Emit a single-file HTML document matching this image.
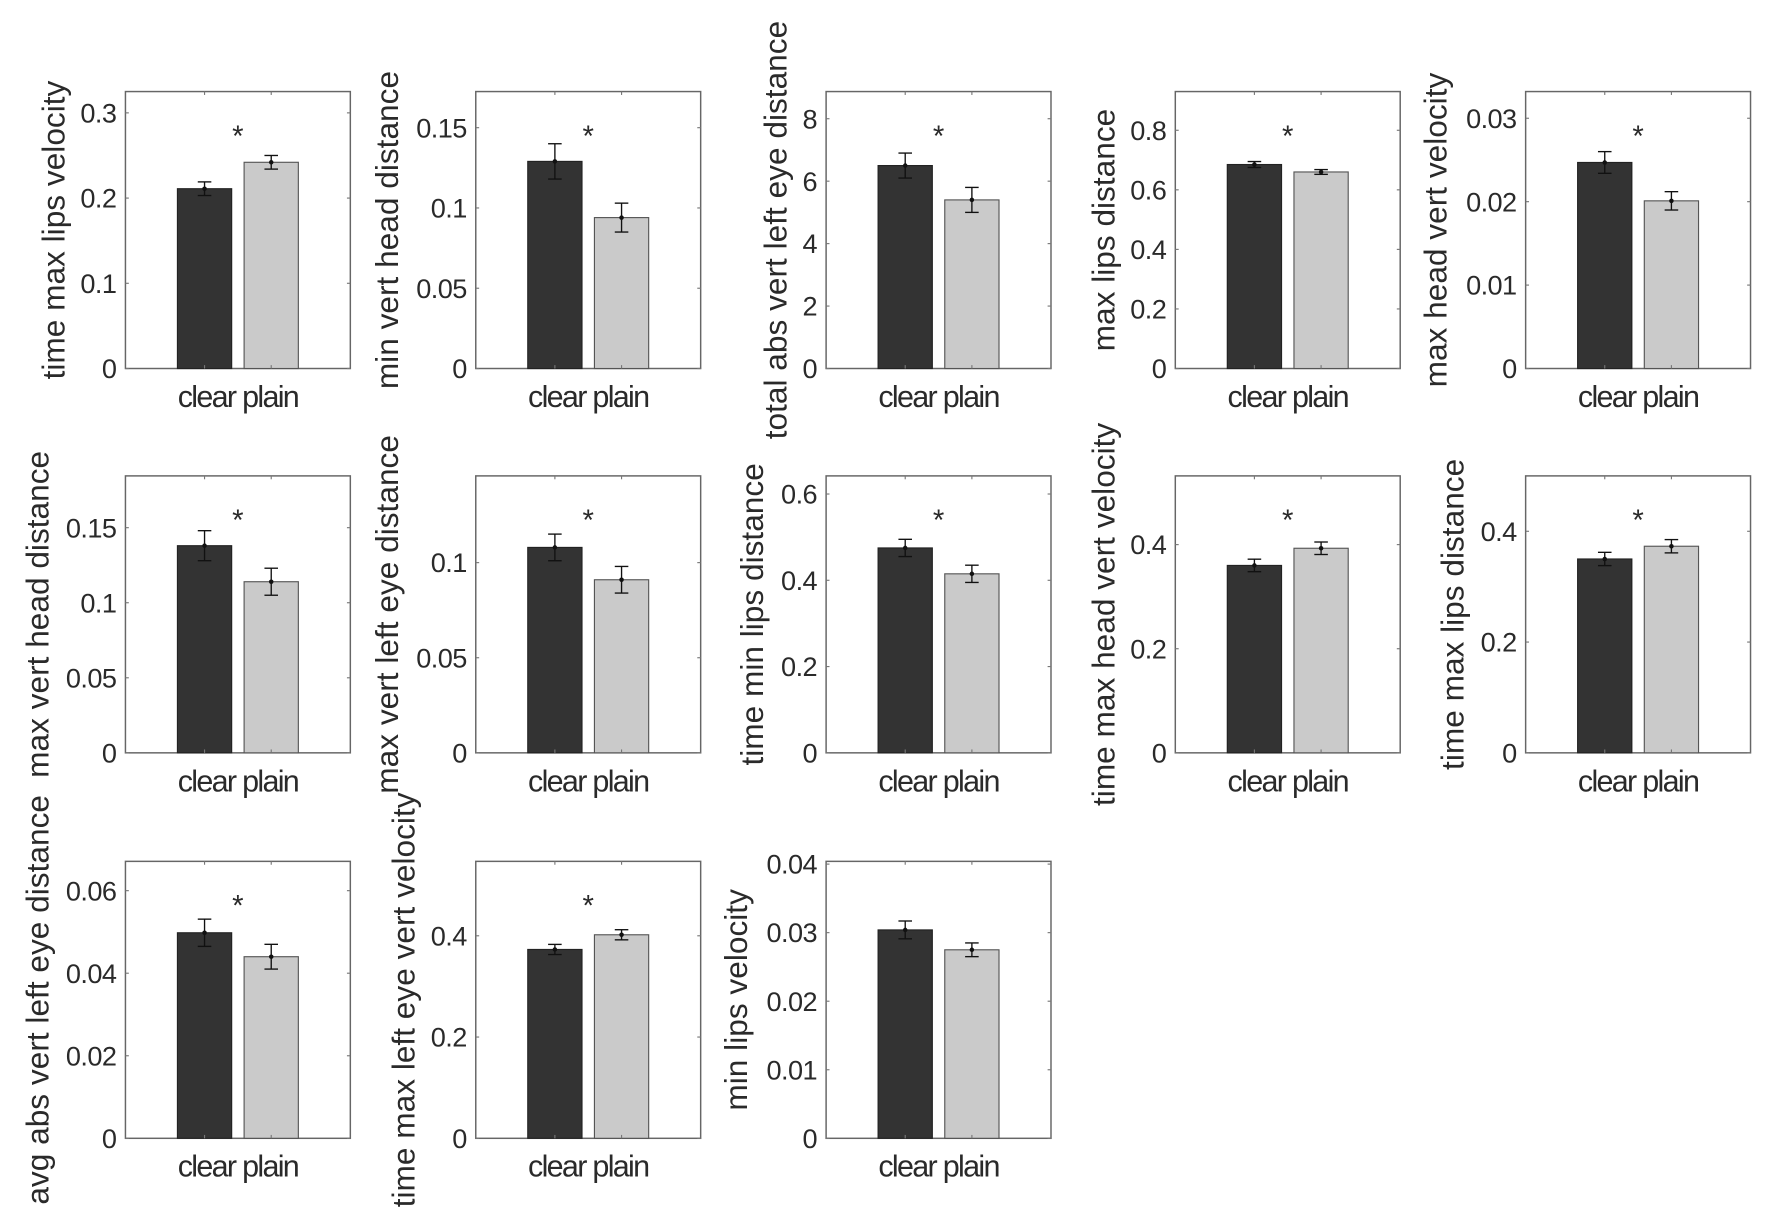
<!DOCTYPE html>
<html><head><meta charset="utf-8"><style>
html,body{margin:0;padding:0;background:#fff;}
svg{display:block;}
text{font-family:"Liberation Sans",sans-serif;fill:#2a2a2a;}
</style></head><body>
<svg id="fig" width="1772" height="1231" viewBox="0 0 1568 1089" preserveAspectRatio="none" xmlns="http://www.w3.org/2000/svg"></svg>
<script>
const categories = ["clear","plain"];
const titles = ["time max lips velocity","min vert head distance","total abs vert left eye distance","max lips distance","max head vert velocity","max vert head distance","max vert left eye distance","time min lips distance","time max head vert velocity","time max lips distance","avg abs vert left eye distance","time max left eye vert velocity","min lips velocity"];
const clearValues = [0.211,0.129,6.5,0.685,0.0247,0.138,0.108,0.475,0.36,0.35,0.0498,0.373,0.0304];
const plainValues = [0.242,0.094,5.4,0.66,0.0201,0.114,0.091,0.415,0.393,0.373,0.044,0.402,0.0275];
const clearErrors = [0.008,0.011,0.4,0.01,0.0013,0.01,0.007,0.02,0.012,0.012,0.0033,0.01,0.0013];
const plainErrors = [0.008,0.009,0.4,0.008,0.0011,0.009,0.007,0.02,0.012,0.012,0.003,0.01,0.001];
const yMax = [0.325,0.1725,8.87,0.93,0.0332,0.1845,0.1456,0.642,0.532,0.5,0.0671,0.547,0.0404];
const tickLabels = [["0","0.1","0.2","0.3"],["0","0.05","0.1","0.15"],["0","2","4","6","8"],["0","0.2","0.4","0.6","0.8"],["0","0.01","0.02","0.03"],["0","0.05","0.1","0.15"],["0","0.05","0.1"],["0","0.2","0.4","0.6"],["0","0.2","0.4"],["0","0.2","0.4"],["0","0.02","0.04","0.06"],["0","0.2","0.4"],["0","0.01","0.02","0.03","0.04"]];
const significant = [1,1,1,1,1,1,1,1,1,1,1,1,0];

const NS="http://www.w3.org/2000/svg";
const svg=document.getElementById('fig');
const colLeft=[111,421,731,1040,1350], rowTop=[81,421,762];
const W=199,H=245;
const labelOffset=[64,79,45,64,80,78,79,66,64,65,78,64,80];
function mk(tag,attrs,parent){const e=document.createElementNS(NS,tag);for(const k in attrs)e.setAttribute(k,attrs[k]);(parent||svg).appendChild(e);return e;}

titles.forEach((t,i)=>{
  const L=colLeft[i%5], T=rowTop[Math.floor(i/5)], B=T+H;
  const y=v=>B - v/yMax[i]*H;
  const g=mk('g',{});
  
  
  const box=mk('rect',{x:L,y:T,width:W,height:H,fill:'none',stroke:'#666','stroke-width':1.3},g);
  
  
  tickLabels[i].forEach(tl=>{
    const v=parseFloat(tl), yy=y(v);
    mk('line',{x1:L,x2:L+3,y1:yy,y2:yy,stroke:'#777','stroke-width':1},g);
    mk('line',{x1:L+W-3,x2:L+W,y1:yy,y2:yy,stroke:'#777','stroke-width':1},g);
    const tx=mk('text',{x:L-8,y:yy+8.5,'text-anchor':'end','font-size':24,'letter-spacing':'-0.5'},g);
    tx.textContent=tl;
    
    
  });
  const centers=[L+70,L+129], bw=48;
  const vals=[clearValues[i],plainValues[i]], errs=[clearErrors[i],plainErrors[i]];
  vals.forEach((v,k)=>{
    const r=mk('rect',{x:centers[k]-bw/2,y:y(v),width:bw,height:B-y(v),fill:k?'#cacaca':'#333',stroke:k?'#555':'#222','stroke-width':1},g);
    
    
    mk('line',{x1:centers[k],x2:centers[k],y1:B,y2:B-3,stroke:'#777'},g);
    mk('line',{x1:centers[k],x2:centers[k],y1:T,y2:T+3,stroke:'#777'},g);
    const eb=mk('g',{stroke:'#111','stroke-width':1.2},g);
    
    
    const yt=y(v+errs[k]), yb=y(v-errs[k]);
    mk('line',{x1:centers[k],x2:centers[k],y1:yt,y2:yb},eb);
    mk('line',{x1:centers[k]-6,x2:centers[k]+6,y1:yt,y2:yt},eb);
    mk('line',{x1:centers[k]-6,x2:centers[k]+6,y1:yb,y2:yb},eb);
    mk('circle',{cx:centers[k],cy:y(v),r:2,fill:'#111',stroke:'none'},eb);
  });
  const xl=mk('text',{x:L+W/2,y:B+34,'text-anchor':'middle','font-size':27,'letter-spacing':'-1.5'},g);
  xl.textContent=categories.join(' ');
  
  
  if(significant[i]){
    const s=mk('text',{x:L+W/2,y:T+48,'text-anchor':'middle','font-size':26},g);
    s.textContent='*';
    
    
  }
  const lx=L-labelOffset[i], ly=T+H/2;
  const yl=mk('text',{x:lx,y:ly,'text-anchor':'middle','font-size':28,transform:'rotate(-90 '+lx+' '+ly+') translate(0 10)'},g);
  yl.textContent=t;
  
  
});
</script>
</body></html>
